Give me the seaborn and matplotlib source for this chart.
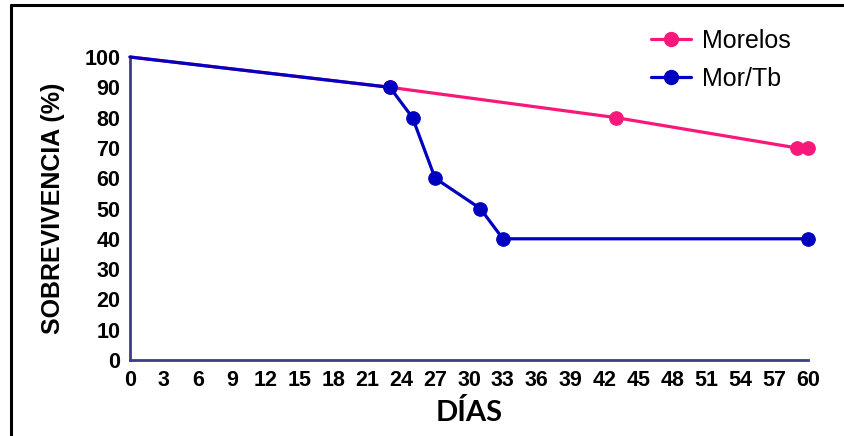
import matplotlib
matplotlib.use("Agg")
import matplotlib.pyplot as plt
from matplotlib.lines import Line2D
import seaborn as sns
import pandas as pd

# Data
morelos_days = [0, 23, 43, 59, 60]
morelos_surv = [100, 90, 80, 70, 70]
morelos_mark_days = [23, 43, 59, 60]
morelos_mark_surv = [90, 80, 70, 70]

mortb_days = [0, 23, 25, 27, 31, 33, 60]
mortb_surv = [100, 90, 80, 60, 50, 40, 40]
mortb_mark_days = [23, 25, 27, 31, 33, 60]
mortb_mark_surv = [90, 80, 60, 50, 40, 40]

series_names = ["Morelos", "Mor/Tb"]
x_ticks = list(range(0, 61, 3))
y_ticks = list(range(0, 101, 10))

PINK = "#F8187A"
BLUE = "#0000C0"
AXC = "#3C3C8C"

sns.set_style("white")
plt.rcParams['font.family'] = ['Liberation Sans', 'DejaVu Sans']
plt.rcParams['text.color'] = 'black'
plt.rcParams['axes.labelcolor'] = 'black'
plt.rcParams['xtick.color'] = 'black'
plt.rcParams['ytick.color'] = 'black'

fig = plt.figure(figsize=(8.44, 4.36), dpi=100)
ax = fig.add_axes([130/844, 1-360/436, (808-130)/844, (360-57)/436])

df_m = pd.DataFrame({"d": morelos_days, "s": morelos_surv})
df_t = pd.DataFrame({"d": mortb_days, "s": mortb_surv})
dm_m = pd.DataFrame({"d": morelos_mark_days, "s": morelos_mark_surv})
dm_t = pd.DataFrame({"d": mortb_mark_days, "s": mortb_mark_surv})

sns.lineplot(data=df_m, x="d", y="s", ax=ax, color=PINK, lw=2.3, clip_on=False, zorder=3)
sns.scatterplot(data=dm_m, x="d", y="s", ax=ax, color=PINK, s=95, edgecolor=PINK, clip_on=False, zorder=4)
sns.lineplot(data=df_t, x="d", y="s", ax=ax, color=BLUE, lw=2.3, clip_on=False, zorder=5)
sns.scatterplot(data=dm_t, x="d", y="s", ax=ax, color=BLUE, s=95, edgecolor=BLUE, clip_on=False, zorder=6)

ax.set_xlim(0, 60)
ax.set_ylim(0, 100)
ax.set_xticks(x_ticks)
ax.set_yticks(y_ticks)
ax.set_xticklabels([str(v) for v in x_ticks], fontsize=15.5, fontweight='bold', color='black')
ax.set_yticklabels([str(v) for v in y_ticks], fontsize=15.5, fontweight='bold', color='black')
ax.tick_params(axis='both', direction='out', length=5, width=2, color=AXC, pad=2)
for side in ['top', 'right']:
    ax.spines[side].set_visible(False)
for side in ['left', 'bottom']:
    ax.spines[side].set_color(AXC)
    ax.spines[side].set_linewidth(2)

ax.set_xlabel("DÍAS", fontsize=21, fontweight='bold', family=['Lato', 'DejaVu Sans'], labelpad=6, color='black')
ax.set_ylabel("SOBREVIVENCIA (%)", fontsize=18, fontweight='bold', labelpad=14, color='black')

handles = [Line2D([], [], color=PINK, lw=2.3, marker='o', markersize=10),
           Line2D([], [], color=BLUE, lw=2.3, marker='o', markersize=10)]
leg = fig.legend(handles, series_names, loc='upper left', bbox_to_anchor=(641/844, 1-19/436),
                 frameon=False, fontsize=18, handlelength=1.6, handletextpad=0.45, labelspacing=0.55,
                 borderaxespad=0)
for t in leg.get_texts():
    t.set_color('black')

# Frame lines (left and top)
fig.add_artist(Line2D([10.5/844, 10.5/844], [0, 1-5.5/436], color='black', lw=2.2, transform=fig.transFigure))
fig.add_artist(Line2D([10.5/844, 843/844], [1-5.5/436, 1-5.5/436], color='black', lw=2.2, transform=fig.transFigure))

fig.savefig("out.png", dpi=100)
